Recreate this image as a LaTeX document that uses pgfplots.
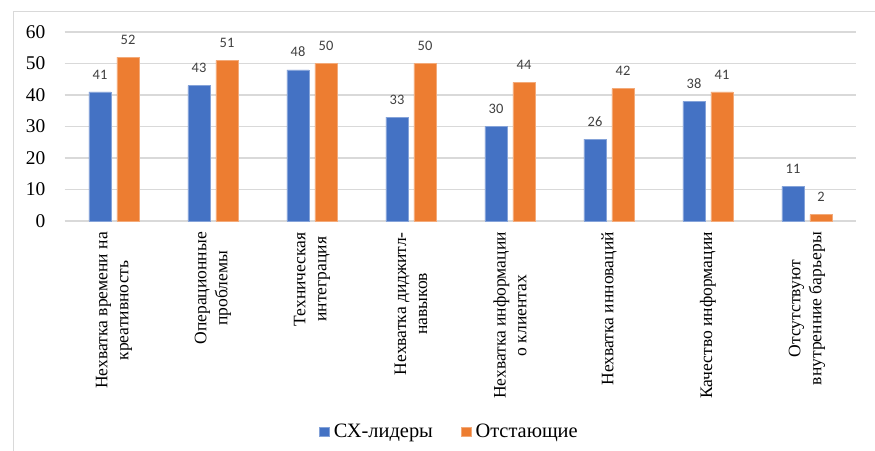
\documentclass[border=0pt]{standalone}
\usepackage{fontspec}
\setmainfont{Liberation Serif}
\newfontfamily\valuefont{Carlito}
\usepackage{pgfplots}
\pgfplotsset{compat=1.18}
\definecolor{leaders}{HTML}{4472C4}
\definecolor{laggards}{HTML}{ED7D31}
\definecolor{gridgray}{HTML}{D9D9D9}
\definecolor{valgray}{HTML}{404040}

\begin{document}
\begin{tikzpicture}
\useasboundingbox (0,0) rectangle (875bp,-451bp);
% chart frame
\draw[gridgray, line width=1bp] (13bp,-451bp) -- (13bp,-11bp) -- (875bp,-11bp);
\begin{axis}[
  at={(64.5bp,-221bp)}, anchor=south west,
  scale only axis, width=792bp, height=189bp,
  xmin=-0.5, xmax=7.5, ymin=0, ymax=60,
  enlargelimits=false,
  ytick={0,10,...,60},
  xtick={0,...,7},
  xticklabels={
    {Нехватка времени на\\креативность},
    {Операционные\\проблемы},
    {Техническая\\интеграция},
    {Нехватка диджитл-\\навыков},
    {Нехватка информации\\о клиентах},
    {Нехватка инноваций},
    {Качество информации},
    {Отсутствуют\\внутренние барьеры}},
  ybar=6bp, bar width=22bp,
  ymajorgrids, grid style={gridgray, line width=1.3bp},
  axis line style={draw=none},
  major tick length=0pt,
  /pgf/number format/assume math mode=true,
  yticklabel style={font=\fontsize{19.5}{22}\selectfont, inner sep=0pt},
  yticklabel shift=19bp,
  xticklabel style={rotate=90, anchor=east, align=center, inner sep=0pt,
    font=\fontsize{17.6}{21}\selectfont},
  xticklabel shift=11bp,
  nodes near coords,
  every node near coord/.append style={font=\valuefont\fontsize{14.5}{16}\selectfont,
    text=valgray, inner sep=0pt, anchor=south, yshift=12.5bp},
  legend columns=2,
  legend style={at={(0.4848,-1.116)}, anchor=center, draw=none, fill=none,
    font=\fontsize{20.5}{22}\selectfont,
    nodes={inner sep=0pt},
    /tikz/every odd column/.append style={column sep=4bp},
    /tikz/every even column/.append style={column sep=28bp}},
  legend image code/.code={\fill[#1] (0bp,-4bp) rectangle (10bp,5bp);},
]
\addplot[fill=leaders, draw=leaders!65!white, line width=0.6bp] coordinates
  {(0,41) (1,43) (2,48) (3,33) (4,30) (5,26) (6,38) (7,11)};
\addplot[fill=laggards, draw=laggards!65!white, line width=0.6bp] coordinates
  {(0,52) (1,51) (2,50) (3,50) (4,44) (5,42) (6,41) (7,2)};
\legend{СХ-лидеры, Отстающие}
\end{axis}
\end{tikzpicture}
\end{document}
